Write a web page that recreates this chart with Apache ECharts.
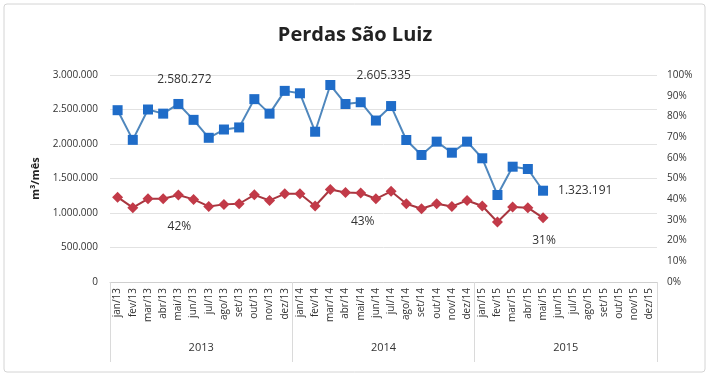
<!DOCTYPE html>
<html>
<head>
<meta charset="utf-8">
<script src="https://cdn.jsdelivr.net/npm/echarts@6/dist/echarts.min.js"></script>
<style>
  html, body { margin: 0; padding: 0; background: #ffffff; }
  #chart { width: 710px; height: 376px; }
</style>
</head>
<body>
<div id="chart"></div>
<script>
// Months Jan/2013 – Dec/2015
const months = [
  'jan/13','fev/13','mar/13','abr/13','mai/13','jun/13','jul/13','ago/13','set/13','out/13','nov/13','dez/13',
  'jan/14','fev/14','mar/14','abr/14','mai/14','jun/14','jul/14','ago/14','set/14','out/14','nov/14','dez/14',
  'jan/15','fev/15','mar/15','abr/15','mai/15','jun/15','jul/15','ago/15','set/15','out/15','nov/15','dez/15'
];
const years = ['2013', '2014', '2015'];

// Monthly losses (m³/mês)
const perdasVolume = [
  2490000, 2060000, 2500000, 2440000, 2580272, 2350000, 2090000, 2210000, 2240000, 2650000, 2440000, 2770000,
  2735000, 2178000, 2855000, 2580000, 2605335, 2340000, 2550000, 2058000, 1841000, 2034000, 1874000, 2034000,
  1793000, 1261000, 1671000, 1638000, 1323191, null, null, null, null, null, null, null
];

// Loss index (%)
const perdasPercent = [
  41.0, 35.9, 40.2, 40.2, 42.0, 39.9, 36.5, 37.5, 37.8, 42.1, 39.4, 42.6,
  42.6, 36.7, 44.7, 43.2, 43.0, 40.2, 43.8, 37.8, 35.4, 37.8, 36.5, 39.4,
  36.7, 29.0, 36.2, 35.9, 31.0, null, null, null, null, null, null, null
];

// Left axis ticks
const volumeTicks = { min: 0, max: 3000000, interval: 500000 };
const percentTicks = { min: 0, max: 100, interval: 10 };

// Months whose values are written on the chart
const labelledMonths = ['mai/13', 'mai/14', 'mai/15'];

function fmtThousands(v) {
  return String(Math.round(v)).replace(/\B(?=(\d{3})+(?!\d))/g, '.');
}

const FONT = '"Open Sans", "Noto Sans", sans-serif';

const volumeLabelStyle = {
  'mai/13': { position: 'top', distance: 5, offset: [6, -8] },
  'mai/14': { position: 'top', distance: 5, offset: [23, -11] },
  'mai/15': { position: 'right', distance: 10, offset: [0, 0] }
};
const percentLabelStyle = {
  'mai/13': { position: 'bottom', distance: 5, offset: [1, 15] },
  'mai/14': { position: 'bottom', distance: 5, offset: [2, 12] },
  'mai/15': { position: 'bottom', distance: 5, offset: [1, 6] }
};

function buildData(values, styles, fmt) {
  return values.map((v, i) => {
    const m = months[i];
    if (v !== null && labelledMonths.includes(m)) {
      const s = styles[m];
      return {
        value: v,
        label: {
          show: true,
          position: s.position,
          distance: s.distance,
          offset: s.offset,
          formatter: () => fmt(v),
          color: '#333',
          fontSize: 12,
          fontFamily: FONT
        }
      };
    }
    return v;
  });
}

const chart = echarts.init(document.getElementById('chart'), null, { renderer: 'canvas' });

chart.setOption({
  backgroundColor: '#ffffff',
  animation: false,
  title: {
    text: 'Perdas São Luiz',
    left: 'center',
    top: 20,
    textStyle: { fontFamily: FONT, fontWeight: 'bold', fontSize: 20, color: '#222' }
  },
  graphic: [{
    type: 'rect',
    shape: { x: 4, y: 4, width: 701, height: 368, r: 3 },
    style: { fill: 'none', stroke: '#d4d4d4', lineWidth: 1 },
    silent: true,
    z: -1
  }],
  grid: { left: 110, right: 53, top: 75, bottom: 94 },
  xAxis: [
    {
      type: 'category',
      data: months,
      boundaryGap: true,
      axisLine: { lineStyle: { color: '#cfcfcf' } },
      axisTick: { show: false },
      axisLabel: {
        rotate: 90,
        interval: 0,
        margin: 6,
        fontSize: 10,
        color: '#333',
        fontFamily: FONT
      }
    },
    {
      type: 'category',
      data: years,
      position: 'bottom',
      boundaryGap: true,
      axisLine: { show: false },
      axisTick: { show: true, length: 80, lineStyle: { color: '#dadada' } },
      axisLabel: { margin: 60, fontSize: 11, color: '#333', fontFamily: FONT },
      splitLine: { show: false }
    }
  ],
  yAxis: [
    {
      type: 'value',
      min: volumeTicks.min,
      max: volumeTicks.max,
      interval: volumeTicks.interval,
      name: 'm³/mês',
      nameLocation: 'middle',
      nameGap: 66,
      nameRotate: 90,
      nameTextStyle: { fontFamily: FONT, fontWeight: 'bold', fontSize: 11, color: '#222' },
      axisLine: { show: false },
      axisTick: { show: false },
      axisLabel: {
        formatter: v => fmtThousands(v),
        fontSize: 10,
        color: '#333',
        margin: 12,
        fontFamily: FONT
      },
      splitLine: { lineStyle: { color: '#e2e2e2' } }
    },
    {
      type: 'value',
      min: percentTicks.min,
      max: percentTicks.max,
      interval: percentTicks.interval,
      position: 'right',
      axisLine: { show: false },
      axisTick: { show: false },
      axisLabel: {
        formatter: '{value}%',
        fontSize: 10,
        color: '#333',
        margin: 10,
        fontFamily: FONT
      },
      splitLine: { show: false }
    }
  ],
  series: [
    {
      name: 'Perdas (m³/mês)',
      type: 'line',
      yAxisIndex: 0,
      data: buildData(perdasVolume, volumeLabelStyle, fmtThousands),
      symbol: 'rect',
      symbolSize: 10,
      showAllSymbol: true,
      lineStyle: { color: '#4f87bd', width: 2 },
      itemStyle: { color: '#1f6cc8' },
      z: 3
    },
    {
      name: 'Perdas (%)',
      type: 'line',
      yAxisIndex: 1,
      data: buildData(perdasPercent, percentLabelStyle, v => Math.round(v) + '%'),
      symbol: 'diamond',
      symbolSize: 11,
      showAllSymbol: true,
      lineStyle: { color: '#a8363f', width: 2 },
      itemStyle: { color: '#c23a48' },
      z: 2
    }
  ]
});
</script>
</body>
</html>
